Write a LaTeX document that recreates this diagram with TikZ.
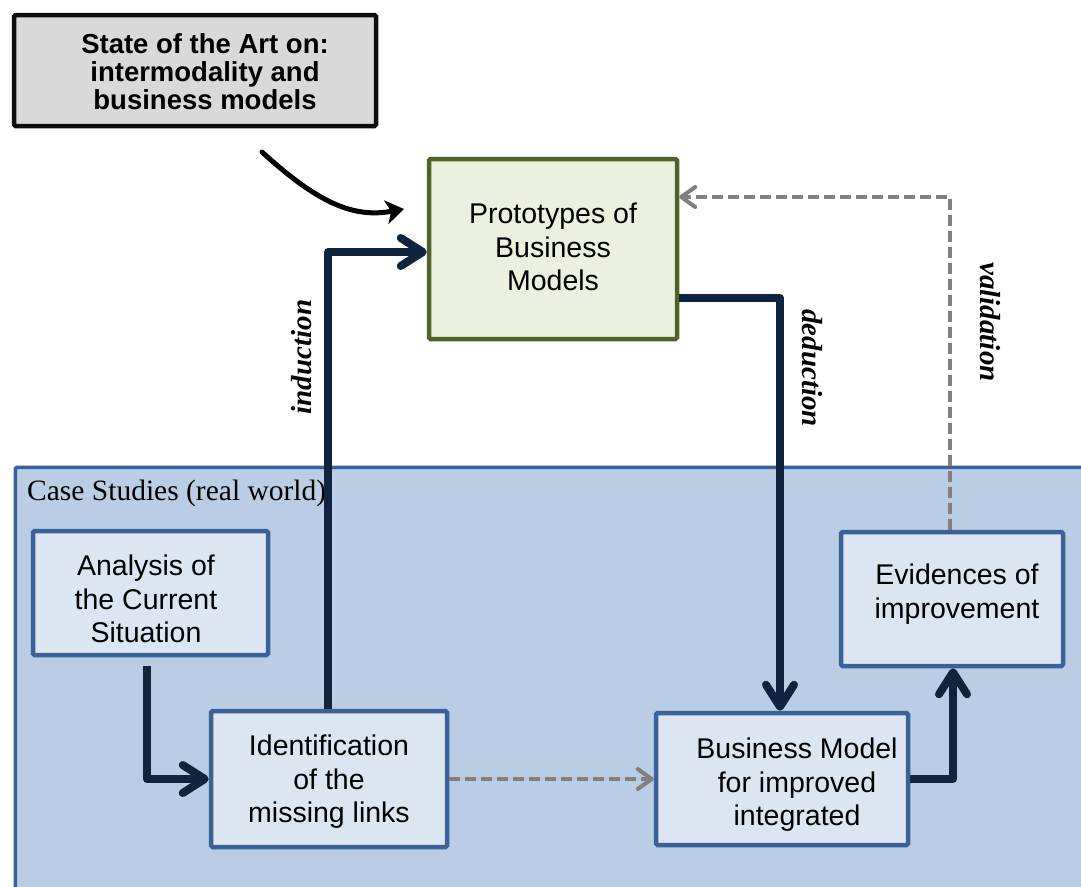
\documentclass[tikz,border=0pt]{standalone}
\usepackage{fontspec}
\setmainfont{Liberation Sans}
\newfontfamily\seriffont{Liberation Serif}
\usetikzlibrary{arrows.meta}
\definecolor{navy}{HTML}{10243E}
\definecolor{dgray}{HTML}{808080}
\definecolor{stategray}{HTML}{D9D9D9}
\definecolor{protofill}{HTML}{EBF1DE}
\definecolor{protoline}{HTML}{4F6228}
\definecolor{casefill}{HTML}{B9CDE5}
\definecolor{caseline}{HTML}{3B6296}
\definecolor{boxfill}{HTML}{DCE6F2}
\tikzset{
  bluebox/.style={draw=caseline, fill=boxfill, line width=4.5pt, rounded corners=1.5pt, inner sep=0pt},
  boxtext/.style={align=center, inner sep=0pt, font=\fontsize{28.5}{33.5}\selectfont},
  navyarrow/.style={draw=navy, line width=8pt, line join=round,
    -{Straight Barb[length=22pt,width=28pt,line cap=round,line join=round]}},
  grayarrow/.style={draw=dgray, line width=4pt, dash pattern=on 11pt off 5pt,
    -{Straight Barb[length=14pt,width=20pt,line cap=round,line join=round,sep=0pt]}},
  sidelabel/.style={font=\seriffont\bfseries\itshape\fontsize{29}{32}\selectfont, inner sep=0pt}
}
\begin{document}
\begin{tikzpicture}[x=1pt,y=-1pt]
\clip (0,0) rectangle (1081,886);
\fill[white] (0,0) rectangle (1081,886);
% case studies region
\node[draw=caseline, fill=casefill, line width=3.5pt, rounded corners=1.5pt, inner sep=0pt,
  minimum width=1090pt, minimum height=440pt, anchor=north west] (case) at (13.5,465.5) {};
\node[anchor=west, inner sep=0pt, font=\seriffont\fontsize{29.5}{32}\selectfont] (caselbl) at (27,493) {Case Studies (real world)};
% state of the art
\node[draw=black!95, fill=stategray, line width=4.5pt, rounded corners=1.5pt, inner sep=0pt,
  minimum width=362pt, minimum height=111pt] (state) at (195,70.5) {};
\node[align=center, inner sep=0pt, font=\bfseries\fontsize{27.5}{28}\selectfont] (statet) at (205,72) {State of the Art on:\\intermodality and\\business models};
% prototypes
\node[draw=protoline, fill=protofill, line width=4.5pt, rounded corners=1.5pt, inner sep=0pt,
  minimum width=248pt, minimum height=180pt] (proto) at (553,249) {};
\node[boxtext] (protot) at (553,247) {Prototypes of\\Business\\Models};
% inner boxes
\node[bluebox, minimum width=235pt, minimum height=124pt] (anal) at (150.5,593) {};
\node[boxtext] (analt) at (146,599) {Analysis of\\the Current\\Situation};
\node[bluebox, minimum width=236pt, minimum height=136pt] (ident) at (329,779) {};
\node[boxtext] (identt) at (329,782) {Identification\\of the\\missing links};
\node[bluebox, minimum width=252pt, minimum height=132pt] (bm) at (782,779) {};
\node[boxtext] (bmt) at (797,785) {Business Model\\for improved\\integrated};
\node[bluebox, minimum width=222pt, minimum height=134pt] (evid) at (952,599) {};
\node[boxtext] (evidt) at (957,594) {Evidences of\\improvement};
% coordinates for free end of curved arrow
\coordinate (curvestart) at (262,152);
\coordinate (curveend) at (404,209);
\draw[line width=5pt, line cap=round, -{Stealth[length=18pt,width=24pt,inset=5pt]}]
  (curvestart) .. controls (320,205) and (355,218) .. (curveend);
% navy arrows
\draw[navyarrow] ([yshift=-9pt]anal.south -| 147,0) |- (ident.west);
\draw[navyarrow] (ident.north -| 328,0) |- ([yshift=-3pt]proto.west);
\draw[navyarrow] ([yshift=-49pt]proto.east) -| (bm.north -| 780,0);
\draw[navyarrow] (bm.east) -| (evid.south -| 953,0);
% gray dashed arrows
\draw[grayarrow] (ident.east) -- (bm.west);
\draw[grayarrow] (evid.north -| 950,0) |- ([yshift=52pt]proto.east);
% labels
\node[sidelabel, rotate=90] (ind) at (302,357) {induction};
\node[sidelabel, rotate=-90] (ded) at (812,368) {deduction};
\node[sidelabel, rotate=-90] (val) at (990,322) {validation};
\end{tikzpicture}
\end{document}
